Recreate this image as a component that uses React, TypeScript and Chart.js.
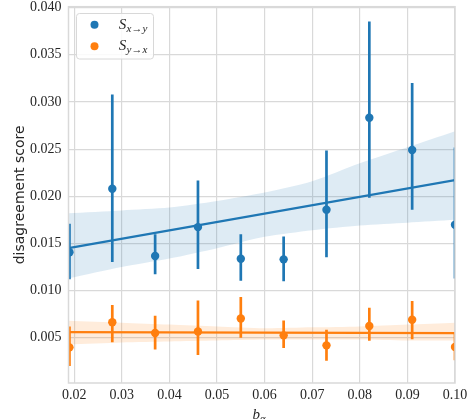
import React, { useEffect, useRef } from "react";
import { Chart, registerables } from "chart.js";
Chart.register(...registerables);

const xValues = [0.019, 0.028, 0.037, 0.046, 0.055, 0.064, 0.073, 0.082, 0.091, 0.1];
const sxyMean = [0.01406, 0.02079, 0.01366, 0.01673, 0.01338, 0.01331, 0.01858, 0.02833, 0.02491, 0.01698];
const sxyLow = [0.01121, 0.01302, 0.01174, 0.01228, 0.01103, 0.01099, 0.01353, 0.01983, 0.01858, 0.01128];
const sxyHigh = [0.01708, 0.03079, 0.01598, 0.02168, 0.01598, 0.01573, 0.02485, 0.03853, 0.03201, 0.02517];
const syxMean = [0.00398, 0.00665, 0.00551, 0.00567, 0.00704, 0.00525, 0.00419, 0.00624, 0.0069, 0.00402];
const syxLow = [0.00201, 0.00451, 0.00376, 0.00316, 0.00501, 0.0039, 0.00255, 0.00469, 0.00483, 0.00262];
const syxHigh = [0.00618, 0.00846, 0.00733, 0.00896, 0.00932, 0.00682, 0.00585, 0.00818, 0.00889, 0.0055];

const bandX = [0.0188, 0.03, 0.04, 0.05, 0.06, 0.07, 0.08, 0.09, 0.1];
const sxyBandHigh = [0.0182, 0.0185, 0.0188, 0.0195, 0.0204, 0.0216, 0.0235, 0.0252, 0.0269];
const sxyBandLow = [0.0113, 0.0125, 0.0134, 0.0145, 0.0157, 0.0164, 0.0169, 0.0172, 0.0175];
const syxBandHigh = [0.0068, 0.0066, 0.0064, 0.0062, 0.006, 0.0061, 0.0062, 0.0064, 0.0066];
const syxBandLow = [0.0043, 0.0045, 0.0046, 0.0047, 0.0048, 0.0048, 0.0048, 0.0047, 0.0047];

const fitX = [0.0188, 0.1];
const sxyFit = [0.01449, 0.02171];
const syxFit = [0.00559, 0.00548];

const xTicks = [0.02, 0.03, 0.04, 0.05, 0.06, 0.07, 0.08, 0.09, 0.1];
const yTicks = [0.005, 0.01, 0.015, 0.02, 0.025, 0.03, 0.035, 0.04];

const BLUE = "#1f77b4";
const ORANGE = "#ff7f0e";
const TEXT = "#262626";
const GRID = "#d9d9d9";

const pts = (xs: number[], ys: number[]) => xs.map((x, i) => ({ x, y: ys[i] }));
const bars = (xs: number[], lo: number[], hi: number[]) =>
  xs.flatMap((x, i) => [
    { x, y: lo[i] },
    { x, y: hi[i] },
    { x, y: null as any },
  ]);

const overlay = {
  id: "overlay",
  afterDraw(chart: any) {
    const ctx = chart.ctx as CanvasRenderingContext2D;
    const a = chart.chartArea;
    ctx.save();
    // frame
    ctx.strokeStyle = GRID;
    ctx.lineWidth = 1.5;
    ctx.strokeRect(a.left, a.top, a.right - a.left, a.bottom - a.top);

    // legend
    ctx.beginPath();
    (ctx as any).roundRect(76.5, 13.5, 77, 45.5, 3);
    ctx.fillStyle = "rgba(255,255,255,0.85)";
    ctx.fill();
    ctx.strokeStyle = "#d8d8d8";
    ctx.lineWidth = 1;
    ctx.stroke();
    const items = [
      { c: BLUE, sub: "x\u2192y", y: 28.9, my: 24.7 },
      { c: ORANGE, sub: "y\u2192x", y: 49.9, my: 46.3 },
    ];
    items.forEach((it) => {
      ctx.beginPath();
      ctx.arc(94.5, it.my, 4, 0, Math.PI * 2);
      ctx.fillStyle = it.c;
      ctx.fill();
      ctx.fillStyle = TEXT;
      ctx.textAlign = "left";
      ctx.textBaseline = "alphabetic";
      ctx.font = 'italic 15px "Liberation Serif"';
      ctx.fillText("S", 118.8, it.y);
      const w = ctx.measureText("S").width;
      ctx.font = 'italic 11px "Liberation Serif"';
      ctx.fillText(it.sub, 118.8 + w + 0.3, it.y + 2.8);
    });

    // y title
    ctx.save();
    ctx.translate(20.5, (a.top + a.bottom) / 2);
    ctx.rotate(-Math.PI / 2);
    ctx.font = '14px "DejaVu Sans"';
    ctx.fillStyle = TEXT;
    ctx.textAlign = "center";
    ctx.textBaseline = "middle";
    ctx.fillText("disagreement score", 0, 0);
    ctx.restore();

    // x title
    ctx.font = 'italic 15px "Liberation Serif"';
    const bw = ctx.measureText("b").width;
    ctx.font = 'italic 10.5px "Liberation Serif"';
    const aw = ctx.measureText("\u03b1").width;
    const start = 259 - (bw + aw) / 2;
    ctx.fillStyle = TEXT;
    ctx.textAlign = "left";
    ctx.textBaseline = "alphabetic";
    ctx.font = 'italic 15px "Liberation Serif"';
    ctx.fillText("b", start, 418.5);
    ctx.font = 'italic 10.5px "Liberation Serif"';
    ctx.fillText("\u03b1", start + bw, 422);
    ctx.restore();
  },
};

export default function App() {
  const ref = useRef<HTMLCanvasElement | null>(null);
  useEffect(() => {
    document.body.style.margin = "0";
    if (!ref.current) return;
    const band = (data: any, fill: any, bg?: string) =>
      ({
        type: "line",
        data,
        borderWidth: 0,
        pointRadius: 0,
        fill,
        backgroundColor: bg,
        tension: 0.25,
        order: 10,
        clip: 0,
      } as any);
    const chart = new Chart(ref.current, {
      type: "scatter",
      data: {
        datasets: [
          band(pts(bandX, sxyBandHigh), "+1", "rgba(31,119,180,0.15)"),
          band(pts(bandX, sxyBandLow), false),
          band(pts(bandX, syxBandHigh), "+1", "rgba(255,127,14,0.15)"),
          band(pts(bandX, syxBandLow), false),
          {
            type: "line",
            data: pts(fitX, sxyFit),
            borderColor: BLUE,
            borderWidth: 2.3,
            pointRadius: 0,
            fill: false,
            order: 6,
            clip: 0,
          } as any,
          {
            type: "line",
            data: pts(fitX, syxFit),
            borderColor: ORANGE,
            borderWidth: 2.3,
            pointRadius: 0,
            fill: false,
            order: 6,
            clip: 0,
          } as any,
          {
            type: "line",
            data: bars(xValues, sxyLow, sxyHigh),
            borderColor: BLUE,
            borderWidth: 2.7,
            pointRadius: 0,
            spanGaps: false,
            fill: false,
            order: 4,
            clip: 0,
          } as any,
          {
            type: "line",
            data: bars(xValues, syxLow, syxHigh),
            borderColor: ORANGE,
            borderWidth: 2.7,
            pointRadius: 0,
            spanGaps: false,
            fill: false,
            order: 4,
            clip: 0,
          } as any,
          {
            data: pts(xValues, sxyMean),
            backgroundColor: BLUE,
            borderWidth: 0,
            pointRadius: 4.2,
            order: 2,
            clip: 0,
          } as any,
          {
            data: pts(xValues, syxMean),
            backgroundColor: ORANGE,
            borderWidth: 0,
            pointRadius: 4.2,
            order: 2,
            clip: 0,
          } as any,
        ],
      },
      options: {
        animation: false,
        responsive: false,
        events: [],
        layout: { padding: { top: 6.7, right: 13, left: 0, bottom: 0 } },
        plugins: { legend: { display: false }, tooltip: { enabled: false } },
        scales: {
          x: {
            type: "linear",
            min: 0.0188,
            max: 0.1,
            afterBuildTicks: (s: any) => {
              s.ticks = xTicks.map((v) => ({ value: v }));
            },
            afterFit: (s: any) => {
              s.height = 36;
              s.paddingLeft = 0;
              s.paddingRight = 0;
            },
            grid: { color: GRID, lineWidth: 1.2, drawTicks: false },
            border: { display: false },
            ticks: {
              padding: 4,
              color: TEXT,
              font: { family: "Liberation Serif", size: 14 },
              callback: (v: any) => Number(v).toFixed(2),
              maxRotation: 0,
            },
          },
          y: {
            type: "linear",
            min: 0.0002,
            max: 0.0401,
            afterBuildTicks: (s: any) => {
              s.ticks = yTicks.map((v) => ({ value: v }));
            },
            afterFit: (s: any) => {
              s.width = 68.5;
              s.paddingTop = 0;
              s.paddingBottom = 0;
            },
            grid: { color: GRID, lineWidth: 1.2, drawTicks: false },
            border: { display: false },
            ticks: {
              padding: 7,
              color: TEXT,
              font: { family: "Liberation Serif", size: 14 },
              callback: (v: any) => Number(v).toFixed(3),
            },
          },
        },
      },
      plugins: [overlay],
    });
    return () => chart.destroy();
  }, []);
  return (
    <div style={{ width: 468, height: 419 }}>
      <canvas ref={ref} width={468} height={419} style={{ display: "block" }} />
    </div>
  );
}
